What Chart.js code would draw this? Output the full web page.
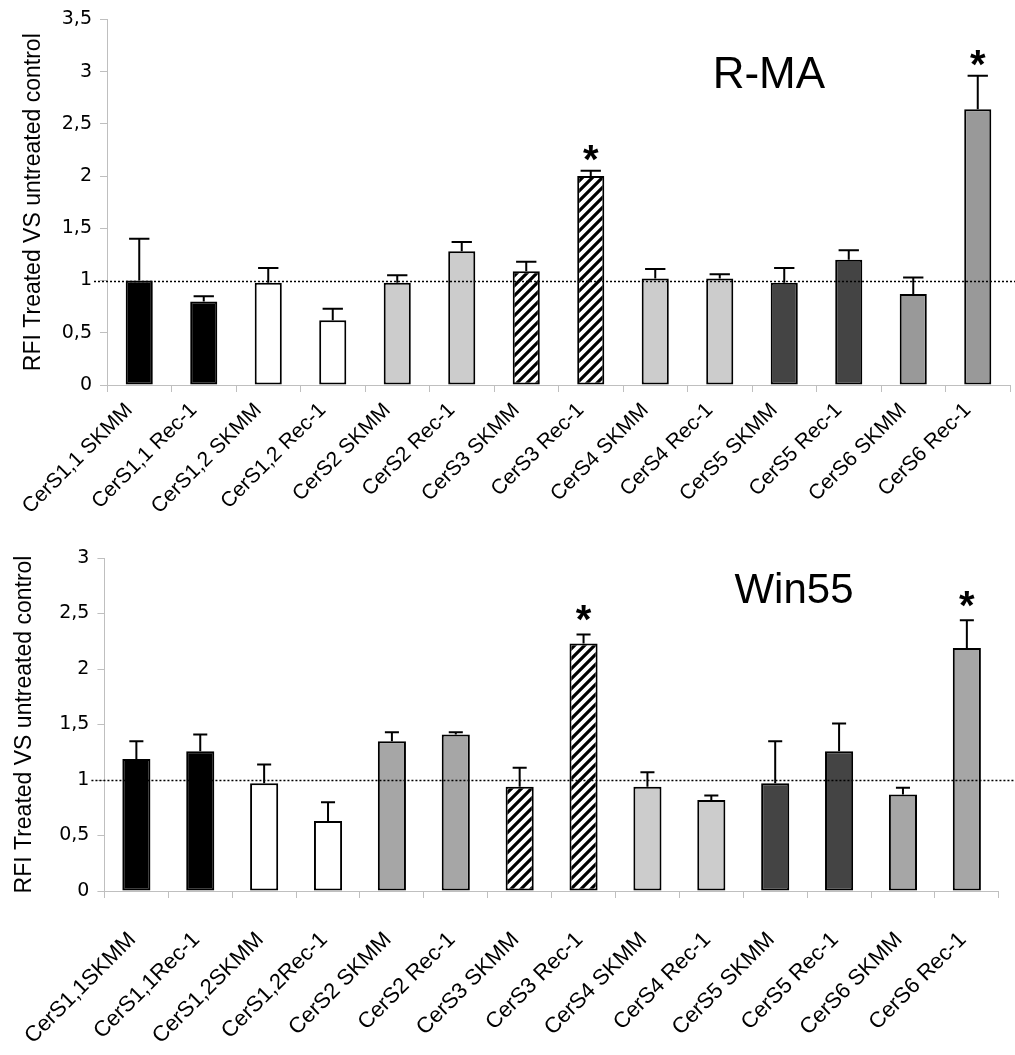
<!DOCTYPE html>
<html><head><meta charset="utf-8">
<script src="https://cdn.jsdelivr.net/npm/chart.js@4.4.1/dist/chart.umd.min.js"></script>
<style>
html,body{margin:0;padding:0;background:#fff;}
#c1{position:absolute;left:0;top:0;}
#c2{position:absolute;left:0;top:520px;}
</style></head><body>
<canvas id="c1" width="1015" height="520"></canvas>
<canvas id="c2" width="1015" height="535"></canvas>
<script>
// ---------- data ----------
const categoriesRMA = ['CerS1,1 SKMM','CerS1,1 Rec-1','CerS1,2 SKMM','CerS1,2 Rec-1','CerS2 SKMM','CerS2 Rec-1','CerS3 SKMM','CerS3 Rec-1','CerS4 SKMM','CerS4 Rec-1','CerS5 SKMM','CerS5 Rec-1','CerS6 SKMM','CerS6 Rec-1'];
const categoriesWin55 = ['CerS1,1SKMM','CerS1,1Rec-1','CerS1,2SKMM','CerS1,2Rec-1','CerS2 SKMM','CerS2 Rec-1','CerS3 SKMM','CerS3 Rec-1','CerS4 SKMM','CerS4 Rec-1','CerS5 SKMM','CerS5 Rec-1','CerS6 SKMM','CerS6 Rec-1'];
const rmaValues = [1.00,0.80,0.98,0.62,0.98,1.28,1.09,2.00,1.02,1.02,0.98,1.20,0.87,2.64];
const rmaErrors = [0.40,0.05,0.14,0.11,0.07,0.09,0.09,0.05,0.09,0.04,0.14,0.09,0.16,0.32];
const rmaSignificance = ['','','','','','','','*','','','','','','*'];
const win55Values = [1.19,1.26,0.97,0.63,1.35,1.41,0.94,2.23,0.94,0.82,0.97,1.26,0.87,2.19];
const win55Errors = [0.16,0.15,0.17,0.17,0.08,0.02,0.17,0.08,0.13,0.04,0.38,0.25,0.06,0.25];
const win55Significance = ['','','','','','','','*','','','','','','*'];
const rmaTicks = [0,0.5,1,1.5,2,2.5,3,3.5];
const win55Ticks = [0,0.5,1,1.5,2,2.5,3];
const referenceLevel = 1;
const rmaTitle = 'R-MA';
const win55Title = 'Win55';
const yAxisTitle = 'RFI Treated VS untreated control';

// ---------- styles ----------
const FONT = 'Liberation Sans, Arial, sans-serif';
const TICKFONT = 'DejaVu Sans, Liberation Sans, sans-serif';
function hatchPattern(){
  const c=document.createElement('canvas'); c.width=10; c.height=10;
  const g=c.getContext('2d'); g.fillStyle='#fff'; g.fillRect(0,0,10,10);
  g.strokeStyle='#000'; g.lineWidth=3.2;
  g.beginPath(); g.moveTo(-2,12); g.lineTo(12,-2); g.moveTo(-2,2); g.lineTo(2,-2); g.moveTo(8,12); g.lineTo(12,8); g.stroke();
  return g.createPattern(c,'repeat');
}
const hatch = hatchPattern();
const rmaFills = ['#000','#000','#fff','#fff','#cccccc','#cccccc',hatch,hatch,'#cccccc','#cccccc','#444444','#444444','#999999','#999999'];
const win55Fills = ['#000','#000','#fff','#fff','#a6a6a6','#a6a6a6',hatch,hatch,'#cccccc','#cccccc','#444444','#444444','#a6a6a6','#a6a6a6'];

function overlay(values, errors, marks, opts){
  return {
    id:'overlay',
    afterDatasetsDraw(chart){
      const ctx=chart.ctx, meta=chart.getDatasetMeta(0), y=chart.scales.y, area=chart.chartArea;
      ctx.save();
      // reference dotted line
      const yl = Math.round(y.getPixelForValue(referenceLevel))+0.5;
      ctx.strokeStyle='#000'; ctx.lineWidth=1.5; ctx.setLineDash([2,2]);
      ctx.beginPath(); ctx.moveTo(area.left-13, yl); ctx.lineTo(chart.width, yl); ctx.stroke();
      ctx.setLineDash([]);
      meta.data.forEach((bar,i)=>{
        const x=bar.x, top=y.getPixelForValue(values[i]), et=y.getPixelForValue(values[i]+errors[i]);
        const cw = bar.width*opts.cap;
        ctx.lineWidth=2; ctx.strokeStyle='#000';
        ctx.beginPath(); ctx.moveTo(x, top); ctx.lineTo(x, et);
        ctx.moveTo(x-cw/2, et); ctx.lineTo(x+cw/2, et); ctx.stroke();
        if(marks[i]){
          ctx.fillStyle='#000'; ctx.font='bold 40px '+FONT; ctx.textAlign='center'; ctx.textBaseline='alphabetic';
          ctx.fillText(marks[i], x, et - opts.gap + 0.57*40);
        }
      });
      // panel title
      ctx.fillStyle='#000'; ctx.font=opts.titleSize+'px '+FONT; ctx.textAlign='center'; ctx.textBaseline='alphabetic';
      ctx.fillText(opts.title, area.left + opts.titleFrac*area.width, area.top + opts.titleBase);
      ctx.restore();
    }
  };
}

function makeChart(id, cats, values, fills, ticksArr, yMax, errors, marks, cfg){
  return new Chart(document.getElementById(id), {
    type:'bar',
    data:{labels:cats, datasets:[{data:values, backgroundColor:fills, borderColor:'#000', borderWidth:2, borderSkipped:false,
      barPercentage:cfg.barPct, categoryPercentage:1}]},
    options:{
      responsive:false, animation:false, devicePixelRatio:1,
      layout:{padding:{top:cfg.padTop,right:cfg.padRight,left:0,bottom:0}},
      plugins:{legend:{display:false}, tooltip:{enabled:false}},
      scales:{
        x:{
          grid:{display:true, drawOnChartArea:false, drawTicks:true, tickLength:7, color:'#bfbfbf', offset:true},
          border:{color:'#bfbfbf', width:1},
          ticks:{autoSkip:false, minRotation:45, maxRotation:45, padding:cfg.xPad, labelOffset:cfg.xShift, color:'#000', font:{family:FONT, size:cfg.xFont}},
          afterFit(s){ s.height = cfg.xHeight; }
        },
        y:{
          min:0, max:yMax,
          afterBuildTicks(s){ s.ticks = ticksArr.map(v=>({value:v})); },
          grid:{display:true, drawOnChartArea:false, drawTicks:true, tickLength:7, color:'#bfbfbf'},
          border:{color:'#bfbfbf', width:1},
          ticks:{padding:8, color:'#000', font:{family:TICKFONT, size:19}, callback:v=>String(v).replace('.', ',')},
          title:{display:true, text:yAxisTitle, color:'#000', font:{family:FONT, size:23}, padding:{top:cfg.titlePad, bottom:0}},
          afterFit(s){ s.width = cfg.yWidth; }
        }
      }
    },
    plugins:[overlay(values, errors, marks, cfg)]
  });
}

makeChart('c1', categoriesRMA, rmaValues, rmaFills, rmaTicks, 3.5, rmaErrors, rmaSignificance,
  {barPct:0.42, padTop:16, padRight:5, xHeight:135, xPad:6, xShift:-10, xFont:21, yWidth:107, titlePad:20,
   cap:0.75, gap:21, title:rmaTitle, titleSize:44, titleFrac:0.733, titleBase:69});
makeChart('c2', categoriesWin55, win55Values, win55Fills, win55Ticks, 3, win55Errors, win55Significance,
  {barPct:0.44, padTop:38, padRight:14, xHeight:164, xPad:29, xShift:-4, xFont:22, yWidth:104, titlePad:10,
   cap:0.5, gap:24, title:win55Title, titleSize:42, titleFrac:0.771, titleBase:45});
</script>
</body></html>
